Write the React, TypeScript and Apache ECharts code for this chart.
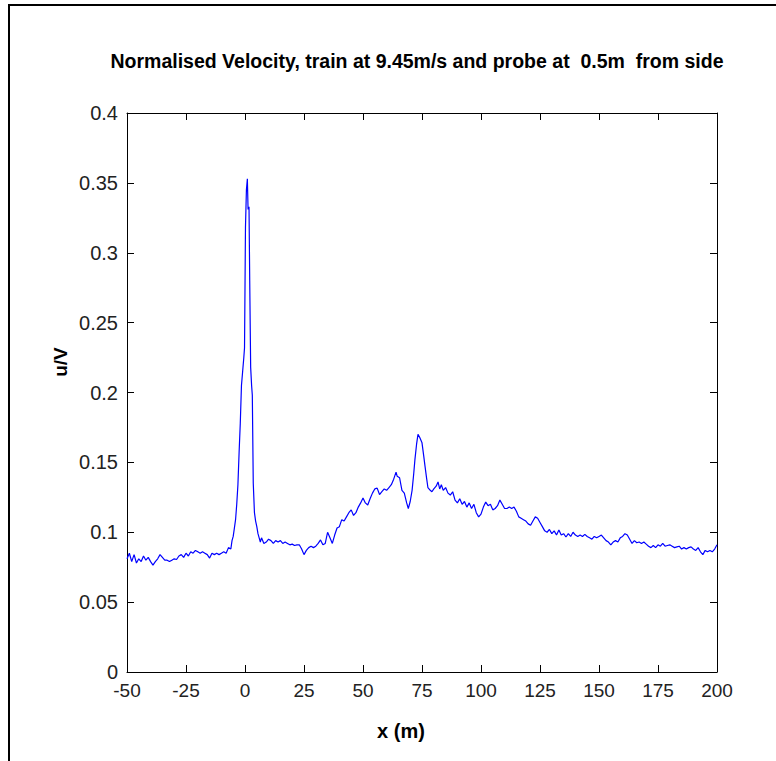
import React, { useEffect, useRef } from "react";
import * as echarts from "echarts";

const titleText = "Normalised Velocity, train at 9.45m/s and probe at  0.5m  from side";
const xTicks = { min: -50, max: 200, interval: 25 };
const yTicks = { min: 0, max: 0.4, interval: 0.05 };

const xPos: number[] = [
  -50, -49, -48, -47, -46, -45, -44, -43, -42, -41, -40, -39, -38, -37, -36, -35, -34, -33, -32, -31,
  -30, -29, -28, -27, -26, -25, -24, -23, -22, -21, -20, -19, -18, -17, -16, -15, -14, -13, -12, -11,
  -10, -9, -8, -7, -6, -5.5, -5, -4.5, -4, -3.5, -3, -2.5, -2, -1.5, -1, -0.5, -0.2, 0.2, 0.6, 1.0,
  1.3, 1.7, 2.0, 2.4, 2.8, 3.1, 3.5, 4.0, 4.5, 5.0, 5.5, 6, 6.5, 7, 8, 9, 10, 11, 12, 13,
  14, 15, 16, 17, 18, 19, 20, 21, 22, 23, 24, 25, 26, 27, 28, 29, 30, 31, 32, 33,
  34, 35, 36, 37, 38, 39, 40, 41, 42, 43, 44, 45, 46, 47, 48, 49, 50, 51, 52, 53,
  54, 55, 56, 57, 58, 59, 60, 61, 62, 63, 64, 64.5, 65.5, 66.5, 67.5, 68.5, 69.2, 70, 70.8, 71.5,
  72, 72.7, 73.3, 74, 75, 75.7, 76.3, 77, 77.5, 78.5, 79.2, 80, 81, 81.8, 82.5, 83.2, 84, 85, 86, 87,
  88, 89, 90, 91, 92, 93, 94, 95, 96, 97, 98, 99, 100, 101, 102, 103, 104, 105, 106, 107,
  108, 109, 110, 111, 112, 113, 114, 115, 116, 117, 118, 119, 120, 121, 122, 123, 124, 125, 126, 127,
  128, 129, 130, 131, 132, 133, 134, 135, 136, 137, 138, 139, 140, 141, 142, 143, 144, 145, 146, 147,
  148, 149, 150, 151, 152, 153, 154, 155, 156, 157, 158, 159, 160, 161, 162, 163, 164, 165, 166, 167,
  168, 169, 170, 171, 172, 173, 174, 175, 176, 177, 178, 179, 180, 181, 182, 183, 184, 185, 186, 187,
  188, 189, 190, 191, 192, 193, 194, 195, 196, 197, 198, 199, 200,
];

const uOverV: number[] = [
  0.081, 0.085, 0.079, 0.084, 0.078, 0.081, 0.079, 0.083, 0.08, 0.082, 0.079, 0.0765, 0.079, 0.081, 0.084, 0.082, 0.08, 0.08, 0.079, 0.08,
  0.081, 0.0805, 0.083, 0.084, 0.082, 0.085, 0.083, 0.086, 0.085, 0.087, 0.086, 0.085, 0.086, 0.085, 0.084, 0.0815, 0.085, 0.084, 0.085, 0.084,
  0.085, 0.086, 0.085, 0.089, 0.088, 0.094, 0.097, 0.103, 0.109, 0.12, 0.134, 0.157, 0.178, 0.205, 0.215, 0.225, 0.232, 0.318, 0.345, 0.353,
  0.331, 0.333, 0.28, 0.218, 0.205, 0.198, 0.135, 0.114, 0.108, 0.104, 0.099, 0.096, 0.093, 0.096, 0.092, 0.093, 0.095, 0.094, 0.092, 0.094,
  0.093, 0.094, 0.092, 0.093, 0.092, 0.091, 0.0915, 0.0905, 0.091, 0.091, 0.088, 0.084, 0.087, 0.089, 0.09, 0.089, 0.09, 0.092, 0.0945, 0.091,
  0.092, 0.1, 0.096, 0.092, 0.098, 0.103, 0.104, 0.109, 0.108, 0.111, 0.114, 0.116, 0.112, 0.114, 0.118, 0.121, 0.1245, 0.121, 0.1195, 0.124,
  0.128, 0.131, 0.1316, 0.127, 0.129, 0.131, 0.13, 0.132, 0.134, 0.138, 0.143, 0.14, 0.139, 0.13, 0.128, 0.121, 0.117, 0.122, 0.13, 0.142,
  0.152, 0.163, 0.17, 0.168, 0.164, 0.155, 0.147, 0.138, 0.132, 0.13, 0.129, 0.131, 0.133, 0.136, 0.131, 0.134, 0.13, 0.132, 0.128, 0.1266,
  0.129, 0.123, 0.121, 0.124, 0.12, 0.122, 0.118, 0.121, 0.117, 0.12, 0.114, 0.111, 0.113, 0.118, 0.1216, 0.119, 0.12, 0.116, 0.117, 0.119,
  0.123, 0.12, 0.117, 0.117, 0.118, 0.117, 0.118, 0.115, 0.111, 0.11, 0.109, 0.108, 0.106, 0.105, 0.108, 0.111, 0.11, 0.107, 0.104, 0.101,
  0.1, 0.102, 0.099, 0.101, 0.098, 0.1016, 0.098, 0.099, 0.0966, 0.099, 0.097, 0.1, 0.098, 0.097, 0.098, 0.097, 0.0985, 0.097, 0.096, 0.095,
  0.097, 0.096, 0.097, 0.098, 0.096, 0.094, 0.093, 0.091, 0.093, 0.094, 0.093, 0.096, 0.097, 0.099, 0.098, 0.095, 0.092, 0.094, 0.0925, 0.093,
  0.092, 0.093, 0.0915, 0.09, 0.089, 0.0905, 0.089, 0.091, 0.09, 0.092, 0.09, 0.0905, 0.091, 0.09, 0.089, 0.0895, 0.09, 0.088, 0.089, 0.088,
  0.089, 0.0895, 0.088, 0.087, 0.089, 0.086, 0.084, 0.087, 0.086, 0.087, 0.086, 0.088, 0.091,
];

const FONT = "'Liberation Sans', Arial, sans-serif";

export default function App() {
  const ref = useRef<HTMLDivElement>(null);
  useEffect(() => {
    if (!ref.current) return;
    const chart = echarts.init(ref.current, null, { renderer: "svg" });
    const data = xPos.map((x, i) => [x, uOverV[i]]);
    const axisCommon = {
      type: "value" as const,
      axisLine: { show: true, onZero: false, lineStyle: { color: "#000", width: 1 } },
      axisTick: { show: true, inside: true, length: 7, lineStyle: { color: "#000", width: 1 } },
      splitLine: { show: false },
    };
    chart.setOption({
      animation: false,
      backgroundColor: "#fff",
      grid: { left: 127, top: 113, right: 59, bottom: 89, containLabel: false },
      xAxis: [
        {
          ...axisCommon,
          ...xTicks,
          position: "bottom",
          axisLabel: { color: "#222", fontSize: 19, margin: 9, fontFamily: FONT },
        },
        {
          ...axisCommon,
          ...xTicks,
          position: "top",
          axisLabel: { show: false },
        },
      ],
      yAxis: [
        {
          ...axisCommon,
          ...yTicks,
          position: "left",
          axisLabel: { color: "#222", fontSize: 20, margin: 9, fontFamily: FONT },
        },
        {
          ...axisCommon,
          ...yTicks,
          position: "right",
          axisLabel: { show: false },
        },
      ],
      series: [
        {
          type: "line",
          data,
          xAxisIndex: 0,
          yAxisIndex: 0,
          showSymbol: false,
          symbol: "none",
          lineStyle: { color: "#0000ff", width: 1.2 },
        },
      ],
      graphic: [
        {
          type: "rect",
          shape: { x: 9, y: 5, width: 900, height: 900 },
          style: { fill: "none", stroke: "#000", lineWidth: 2 },
          silent: true,
        },
        {
          type: "text",
          x: 417,
          y: 61,
          style: {
            text: titleText,
            fontFamily: FONT,
            fontWeight: "bold",
            fontSize: 19.5,
            fill: "#000",
            align: "center",
            verticalAlign: "middle",
          },
        },
        {
          type: "text",
          x: 60,
          y: 362,
          rotation: Math.PI / 2,
          style: {
            text: "u/V",
            fontFamily: FONT,
            fontWeight: "bold",
            fontSize: 19,
            fill: "#000",
            align: "center",
            verticalAlign: "middle",
          },
        },
        {
          type: "text",
          x: 401,
          y: 731,
          style: {
            text: "x (m)",
            fontFamily: FONT,
            fontWeight: "bold",
            fontSize: 20,
            fill: "#000",
            align: "center",
            verticalAlign: "middle",
          },
        },
      ],
    });
    return () => chart.dispose();
  }, []);
  return (
    <div
      ref={ref}
      style={{ position: "fixed", left: 0, top: 0, width: 776, height: 761, background: "#fff" }}
    />
  );
}
